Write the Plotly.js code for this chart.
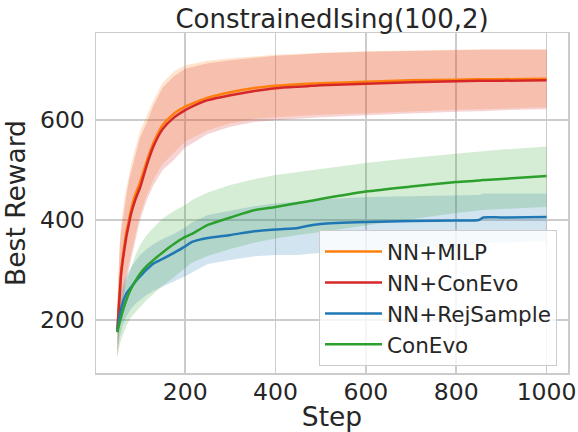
<!DOCTYPE html>
<html>
<head>
<meta charset="utf-8">
<script src="https://cdn.plot.ly/plotly-3.0.1.min.js"></script>
<style>html,body{margin:0;padding:0;background:#fff;}#chart{width:578px;height:432px;}</style>
</head>
<body>
<div id="chart"></div>
<script>
// ---- data ----
const steps = [50,52,55,58,62,66,70,75,80,90,100,115,130,150,175,200,215,250,300,350,400,450,470,500,600,700,800,850,860,900,1000];

const milpMean  = [180,215,258,297,328,353,378,398,420,452,475,518,555,590,613,627,633,645,656,664,669,672,673,674,677,680,681,682,682,682,683];
const milpLow   = [125,165,198,225,250,270,290,312,332,372,410,450,482,512,535,557,564,580,594,602,606,609,610,611,614,618,621,622,622,623,626];
const milpHigh  = [235,305,355,390,420,445,465,490,510,545,578,610,640,675,698,710,713,719,724,728,731,733,734,735,738,740,741,742,742,742,742];

const conevoNNMean = [180,210,250,290,320,345,368,390,412,442,465,510,548,582,605,620,627,640,650,658,664,667,668,670,673,676,678,679,679,679,680];
const conevoNNLow  = [125,160,190,215,240,260,280,300,320,360,400,440,470,500,520,545,553,572,587,596,600,603,604,606,610,614,617,618,618,620,622];
const conevoNNHigh = [235,300,345,378,405,428,450,478,495,530,565,595,630,665,688,703,706,714,720,725,729,731,732,734,737,739,740,741,741,741,741];

const rejMean = [176,195,210,222,235,245,253,259,265,277,287,301,313,322,334,347,356,364,370,377,381,384,388,392,396,398,399,400,405,405,406];
const rejLow  = [125,150,165,178,190,200,207,215,222,232,240,250,258,266,276,287,295,312,320,327,330,330,332,334,340,345,349,351,354,355,357];
const rejHigh = [200,225,245,258,270,280,288,297,305,318,330,342,352,362,372,385,395,410,418,427,433,437,439,441,446,448,449,450,453,453,453];

const evoMean = [175,185,195,205,218,230,240,252,262,278,292,308,320,335,352,366,372,390,405,419,426,434,437,442,457,467,476,479,480,482,488];
const evoLow  = [125,140,150,160,170,180,188,197,205,215,225,240,252,268,285,305,315,328,342,354,363,370,373,376,389,402,414,419,420,422,426];
const evoHigh = [200,215,228,240,255,267,278,292,306,330,350,370,385,403,418,430,440,455,470,481,490,496,499,503,514,524,533,537,538,541,547];

const names  = ['NN+MILP','NN+ConEvo','NN+RejSample','ConEvo'];
const colors = ['#ff7f0e','#d62728','#1f77b4','#2ca02c'];
const fills  = ['rgba(255,127,14,0.2)','rgba(214,39,40,0.2)','rgba(31,119,180,0.2)','rgba(44,160,44,0.2)'];
const means  = [milpMean, conevoNNMean, rejMean, evoMean];
const lows   = [milpLow, conevoNNLow, rejLow, evoLow];
const highs  = [milpHigh, conevoNNHigh, rejHigh, evoHigh];

const traces = [];
for (let i = 0; i < names.length; i++) {
  traces.push({x: steps, y: lows[i], mode: 'lines', line: {width: 0, color: fills[i]},
               showlegend: false, hoverinfo: 'skip'});
  traces.push({x: steps, y: highs[i], mode: 'lines', line: {width: 0, color: fills[i]},
               fill: 'tonexty', fillcolor: fills[i], showlegend: false, hoverinfo: 'skip'});
}
for (let i = 0; i < names.length; i++) {
  traces.push({x: steps, y: means[i], mode: 'lines', name: names[i],
               line: {width: 2.5, color: colors[i], shape: 'spline', smoothing: 0.6}});
}

const txt = '#262626';
const font = 'DejaVu Sans, Liberation Sans, sans-serif';
const layout = {
  width: 578, height: 432,
  margin: {l: 96, r: 10, t: 33, b: 59, pad: 0},
  paper_bgcolor: '#ffffff', plot_bgcolor: '#ffffff',
  font: {family: font, color: txt, size: 22},
  title: {text: 'ConstrainedIsing(100,2)', font: {size: 26, color: txt, family: font},
          x: 0.5, xref: 'paper', xanchor: 'center', yref: 'container', y: 1 - 19/432, yanchor: 'middle'},
  xaxis: {
    range: [2.5, 1047.5], tick0: 0, dtick: 200, showgrid: true, gridcolor: '#cccccc', gridwidth: 1.5,
    zeroline: false, showline: true, mirror: true, linecolor: '#cccccc', linewidth: 1.5,
    ticks: '', tickfont: {size: 23.5, color: txt}, ticklabelstandoff: -3,
    title: {text: 'Step', font: {size: 26.5, color: txt}, standoff: 18}
  },
  yaxis: {
    range: [93.4, 774.6], tick0: 0, dtick: 200, showgrid: true, gridcolor: '#cccccc', gridwidth: 1.5,
    zeroline: false, showline: true, mirror: true, linecolor: '#cccccc', linewidth: 1.5,
    ticks: '', tickfont: {size: 23.5, color: txt}, ticklabelstandoff: 5,
    title: {text: 'Best Reward', font: {size: 26.5, color: txt}, standoff: 6}
  },
  legend: {
    x: (557-96)/472, xanchor: 'right', y: (373-230)/340, yanchor: 'top',
    bgcolor: 'rgba(255,255,255,0.8)', bordercolor: '#cccccc', borderwidth: 1,
    font: {size: 21.5, color: txt}, itemwidth: 57, tracegroupgap: 0, traceorder: 'normal'
  },
  showlegend: true
};

Plotly.newPlot('chart', traces, layout, {staticPlot: true, displayModeBar: false});
</script>
</body>
</html>
